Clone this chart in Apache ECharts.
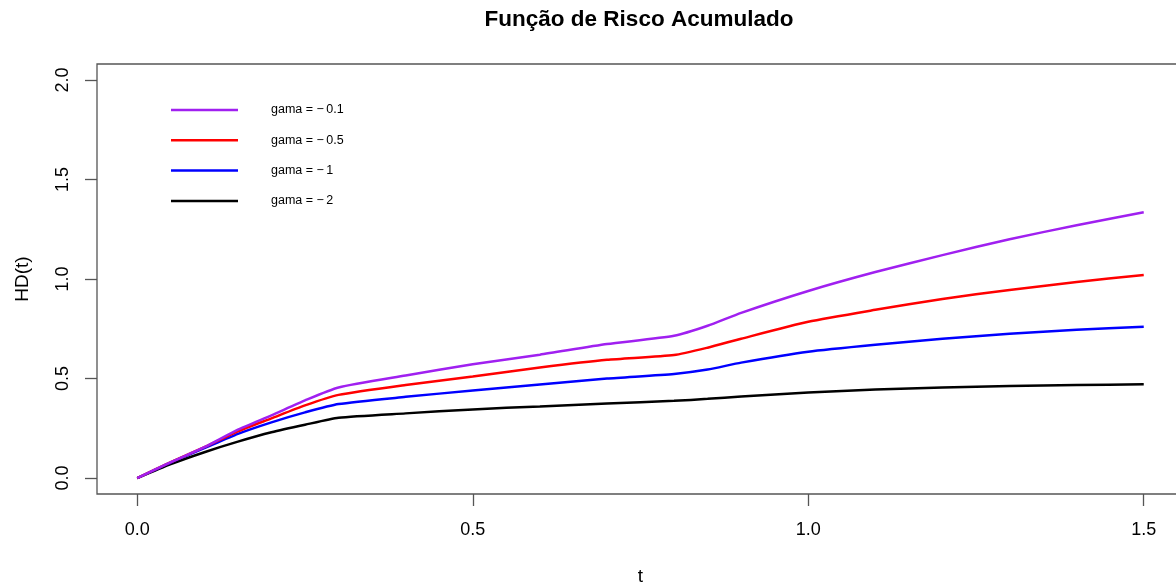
<!DOCTYPE html>
<html>
<head>
<meta charset="utf-8">
<script src="https://cdn.jsdelivr.net/npm/echarts@6/dist/echarts.min.js"></script>
<style>html,body{margin:0;padding:0;background:#fff}#c{width:1176px;height:586px}</style>
</head>
<body>
<div id="c"></div>
<script>
const tValues = [0, 0.05, 0.1, 0.15, 0.2, 0.25, 0.3, 0.4, 0.5, 0.6, 0.7, 0.8, 0.85, 0.9, 1.0, 1.1, 1.2, 1.3, 1.4, 1.5];
const gama01 = [0, 0.08, 0.155, 0.243, 0.315, 0.39, 0.455, 0.515, 0.572, 0.62, 0.673, 0.715, 0.765, 0.83, 0.94, 1.035, 1.12, 1.20, 1.27, 1.335];
const gama05 = [0, 0.08, 0.155, 0.235, 0.30, 0.365, 0.418, 0.468, 0.51, 0.555, 0.594, 0.618, 0.655, 0.70, 0.785, 0.845, 0.90, 0.945, 0.985, 1.02];
const gama1  = [0, 0.078, 0.15, 0.222, 0.28, 0.33, 0.372, 0.408, 0.44, 0.47, 0.50, 0.523, 0.545, 0.58, 0.635, 0.67, 0.70, 0.725, 0.745, 0.76];
const gama2  = [0, 0.07, 0.13, 0.183, 0.23, 0.268, 0.303, 0.325, 0.345, 0.36, 0.375, 0.388, 0.398, 0.41, 0.43, 0.445, 0.455, 0.462, 0.467, 0.471];
const seriesNames = ['gama = \u2212\u20090.1', 'gama = \u2212\u20090.5', 'gama = \u2212\u20091', 'gama = \u2212\u20092'];
const seriesColors = ['#A020F0', '#FF0000', '#0000FF', '#000000'];
const xTicks = [0, 0.5, 1.0, 1.5];
const yTicks = [0, 0.5, 1.0, 1.5, 2.0];

const allData = [gama01, gama05, gama1, gama2];
const font = '"Liberation Sans", Arial, sans-serif';

const chart = echarts.init(document.getElementById('c'), null, {renderer: 'canvas'});
chart.setOption({
  animation: false,
  backgroundColor: '#ffffff',
  title: {
    text: 'Função de Risco Acumulado',
    left: 634, top: 3, textAlign: 'center',
    textStyle: {fontFamily: font, fontWeight: 'bold', fontSize: 22.5, color: '#000'}
  },
  legend: {
    orient: 'vertical', left: 171, top: 103, padding: 0,
    icon: 'rect', itemWidth: 67, itemHeight: 2.5, itemGap: 16.3,
    data: seriesNames,
    textStyle: {fontFamily: font, fontSize: 12.5, color: '#000', lineHeight: 14, padding: [0, 0, 0, 28]}
  },
  grid: {
    left: 97, top: 64, width: 1087, height: 430,
    outerBoundsMode: 'none', containLabel: false,
    show: true, borderColor: '#555', borderWidth: 1.3, backgroundColor: 'transparent'
  },
  xAxis: {
    type: 'value', min: -0.06, max: 1.56,
    name: 't', nameLocation: 'middle', nameGap: 73,
    nameTextStyle: {fontFamily: font, fontSize: 19, color: '#000'},
    axisLine: {show: false, onZero: false},
    splitLine: {show: false},
    axisTick: {show: true, customValues: xTicks, length: 12, lineStyle: {color: '#555', width: 1.3}},
    axisLabel: {customValues: xTicks, margin: 27, fontFamily: font, fontSize: 18, color: '#000',
      formatter: v => v.toFixed(1)}
  },
  yAxis: {
    type: 'value', min: -0.08, max: 2.08,
    name: 'HD(t)', nameLocation: 'middle', nameGap: 65,
    nameTextStyle: {fontFamily: font, fontSize: 19, color: '#000'},
    axisLine: {show: false, onZero: false},
    splitLine: {show: false},
    axisTick: {show: true, customValues: yTicks, length: 12, lineStyle: {color: '#555', width: 1.3}},
    axisLabel: {customValues: yTicks, margin: 25, rotate: 90, fontFamily: font, fontSize: 18, color: '#000',
      formatter: v => v.toFixed(1)}
  },
  series: allData.map((arr, i) => ({
    name: seriesNames[i],
    type: 'line',
    data: tValues.map((t, j) => [t, arr[j]]),
    showSymbol: false, symbol: 'none',
    smooth: 0.2,
    lineStyle: {color: seriesColors[i], width: 2.5},
    itemStyle: {color: seriesColors[i]},
    z: 10 - i
  }))
});
</script>
</body>
</html>
